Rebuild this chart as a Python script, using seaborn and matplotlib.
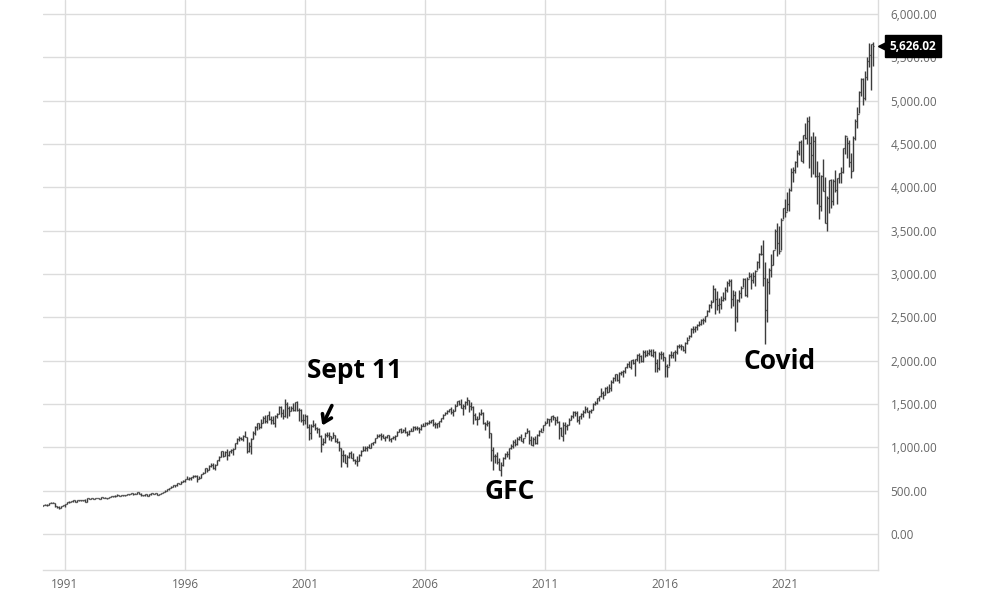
import numpy as np
import pandas as pd
import matplotlib
matplotlib.use("Agg")
import matplotlib.pyplot as plt
import matplotlib.transforms as mtransforms
import seaborn as sns

# ---------------- data (S&P 500 monthly OHLC, Jan 1990 - Sep 2024) ----------------
first_open = 353.4
closes = [
    329.1, 331.9, 339.9, 330.8, 361.2, 358.0, 356.2, 322.6, 306.1, 304.0, 322.2, 330.2,
    343.9, 367.1, 375.2, 375.3, 389.8, 371.2, 387.8, 395.4, 387.9, 392.5, 375.2, 417.1,
    408.8, 412.7, 403.7, 414.9, 415.4, 408.1, 424.2, 414.0, 417.8, 418.7, 431.4, 435.7,
    438.8, 443.4, 451.7, 440.2, 450.2, 450.5, 448.1, 463.6, 458.9, 467.8, 461.8, 466.5,
    481.6, 467.1, 445.8, 450.9, 456.5, 444.3, 458.3, 475.5, 462.7, 472.4, 454.0, 459.3,
    470.4, 487.4, 500.7, 514.7, 533.4, 544.8, 562.1, 561.9, 584.4, 581.5, 605.4, 615.9,
    636.0, 640.4, 645.5, 654.2, 669.1, 670.6, 639.9, 652.0, 687.3, 705.3, 757.0, 740.7,
    786.2, 790.8, 757.1, 801.3, 848.3, 885.1, 954.3, 899.5, 947.3, 914.6, 955.4, 970.4,
    980.3, 1049.3, 1101.8, 1111.8, 1090.8, 1133.8, 1120.7, 957.3, 1017.0, 1098.7, 1163.6, 1229.2,
    1279.6, 1238.3, 1286.4, 1335.2, 1301.8, 1372.7, 1328.7, 1320.4, 1282.7, 1362.9, 1389.0, 1469.3,
    1394.5, 1366.4, 1498.6, 1452.4, 1420.6, 1454.6, 1430.8, 1517.7, 1436.5, 1429.4, 1315.0, 1320.3,
    1366.0, 1239.9, 1160.3, 1249.5, 1255.8, 1224.4, 1211.2, 1133.6, 1040.9, 1059.8, 1139.5, 1148.1,
    1130.2, 1106.7, 1147.4, 1076.9, 1067.1, 989.8, 911.6, 916.1, 815.3, 885.8, 936.3, 879.8,
    855.7, 841.2, 848.2, 916.9, 963.6, 974.5, 990.3, 1008.0, 996.0, 1050.7, 1058.2, 1111.9,
    1131.1, 1144.9, 1126.2, 1107.3, 1120.7, 1140.8, 1101.7, 1104.2, 1114.6, 1130.2, 1173.8, 1211.9,
    1181.3, 1203.6, 1180.6, 1156.9, 1191.5, 1191.3, 1234.2, 1220.3, 1228.8, 1207.0, 1249.5, 1248.3,
    1280.1, 1280.7, 1294.8, 1310.6, 1270.1, 1270.2, 1276.7, 1303.8, 1335.9, 1377.9, 1400.6, 1418.3,
    1438.2, 1406.8, 1420.9, 1482.4, 1530.6, 1503.4, 1455.3, 1474.0, 1526.8, 1549.4, 1481.1, 1468.4,
    1378.6, 1330.6, 1322.7, 1385.6, 1400.4, 1280.0, 1267.4, 1282.8, 1166.4, 968.8, 896.2, 903.3,
    825.9, 735.1, 797.9, 872.8, 919.1, 919.3, 987.5, 1020.6, 1057.1, 1036.2, 1095.6, 1115.1,
    1073.9, 1104.5, 1169.4, 1186.7, 1089.4, 1030.7, 1101.6, 1049.3, 1141.2, 1183.3, 1180.6, 1257.6,
    1286.1, 1327.2, 1325.8, 1363.6, 1345.2, 1320.6, 1292.3, 1218.9, 1131.4, 1253.3, 1247.0, 1257.6,
    1312.4, 1365.7, 1408.5, 1397.9, 1310.3, 1362.2, 1379.3, 1406.6, 1440.7, 1412.2, 1416.2, 1426.2,
    1498.1, 1514.7, 1569.2, 1597.6, 1630.7, 1606.3, 1685.7, 1633.0, 1681.6, 1756.5, 1805.8, 1848.4,
    1782.6, 1859.5, 1872.3, 1883.9, 1923.6, 1960.2, 1930.7, 2003.4, 1972.3, 2018.1, 2067.6, 2058.9,
    1995.0, 2104.5, 2067.9, 2085.5, 2107.4, 2063.1, 2103.8, 1972.2, 1920.0, 2079.4, 2080.4, 2043.9,
    1940.2, 1932.2, 2059.7, 2065.3, 2096.9, 2098.9, 2173.6, 2170.9, 2168.3, 2126.2, 2199.0, 2238.8,
    2278.9, 2363.6, 2362.7, 2384.2, 2411.8, 2423.4, 2470.3, 2471.7, 2519.4, 2575.3, 2647.6, 2673.6,
    2823.8, 2713.8, 2640.9, 2648.1, 2705.3, 2718.4, 2816.3, 2901.5, 2914.0, 2711.7, 2760.2, 2506.9,
    2704.1, 2784.5, 2834.4, 2945.8, 2752.1, 2941.8, 2980.4, 2926.5, 2976.7, 3037.6, 3141.0, 3230.8,
    3225.5, 2954.2, 2584.6, 2912.4, 3044.3, 3100.3, 3271.1, 3500.3, 3363.0, 3270.0, 3621.6, 3756.1,
    3714.2, 3811.2, 3972.9, 4181.2, 4204.1, 4297.5, 4395.3, 4522.7, 4307.5, 4605.4, 4567.0, 4766.2,
    4515.6, 4373.9, 4530.4, 4131.9, 4132.2, 3785.4, 4130.3, 3955.0, 3585.6, 3872.0, 4080.1, 3839.5,
    4076.6, 3970.2, 4109.3, 4169.5, 4179.8, 4450.4, 4589.0, 4507.7, 4288.1, 4193.8, 4567.8, 4769.8,
    4845.7, 5096.3, 5254.4, 5035.7, 5277.5, 5460.5, 5522.3, 5648.4, 5626.02,
]
highs = [
    359.7, 336.1, 344.5, 347.3, 361.2, 369.0, 369.8, 356.4, 325.8, 318.8, 324.1, 330.8,
    344.5, 370.5, 378.5, 381.1, 389.9, 391.4, 391.6, 397.7, 396.9, 394.8, 398.8, 418.3,
    420.8, 418.3, 413.7, 418.0, 420.8, 418.3, 425.0, 425.1, 422.4, 419.6, 431.9, 441.3,
    442.0, 449.5, 456.7, 452.0, 453.5, 454.0, 450.6, 463.6, 463.6, 470.8, 468.6, 471.3,
    482.9, 482.2, 470.2, 452.8, 457.6, 462.0, 459.3, 476.6, 476.0, 474.5, 473.8, 466.3,
    473.8, 489.2, 503.6, 515.3, 533.8, 553.9, 563.8, 566.0, 589.9, 590.7, 608.0, 622.9,
    637.4, 664.2, 661.5, 657.6, 681.1, 680.3, 677.5, 673.4, 690.9, 714.1, 758.0, 762.1,
    794.7, 817.7, 814.9, 805.0, 851.9, 897.9, 960.3, 960.3, 961.0, 983.1, 962.0, 986.3,
    992.8, 1051.4, 1105.7, 1130.5, 1122.1, 1138.5, 1190.6, 1121.7, 1066.1, 1110.3, 1193.0, 1244.9,
    1280.4, 1283.1, 1323.9, 1362.8, 1368.6, 1376.0, 1420.3, 1357.4, 1358.8, 1367.7, 1396.1, 1473.1,
    1478.0, 1444.6, 1552.9, 1527.2, 1481.5, 1474.6, 1517.3, 1525.2, 1530.1, 1454.8, 1438.5, 1389.9,
    1383.4, 1376.4, 1267.4, 1269.3, 1315.9, 1286.6, 1239.8, 1226.3, 1141.8, 1110.6, 1163.4, 1173.0,
    1176.6, 1130.2, 1173.0, 1147.8, 1106.6, 1070.7, 997.3, 965.0, 924.0, 907.4, 951.6, 954.3,
    935.1, 864.6, 895.9, 919.7, 965.0, 1015.3, 1015.4, 1011.0, 1040.3, 1053.8, 1063.6, 1112.6,
    1155.4, 1159.0, 1163.2, 1150.6, 1127.7, 1146.3, 1140.8, 1109.7, 1131.5, 1142.1, 1188.5, 1217.3,
    1217.8, 1212.4, 1229.1, 1191.9, 1199.6, 1219.6, 1245.2, 1245.9, 1243.1, 1233.3, 1270.6, 1275.8,
    1294.9, 1297.6, 1310.9, 1318.2, 1326.7, 1290.7, 1280.4, 1306.7, 1340.3, 1389.5, 1407.9, 1431.8,
    1441.6, 1461.6, 1438.9, 1498.0, 1535.6, 1540.6, 1555.9, 1503.9, 1538.7, 1576.1, 1545.8, 1523.6,
    1471.8, 1396.0, 1359.7, 1404.6, 1440.2, 1404.1, 1292.2, 1313.2, 1303.0, 1167.0, 1007.5, 918.9,
    943.9, 875.0, 833.0, 888.7, 930.2, 956.2, 996.7, 1039.5, 1080.2, 1101.4, 1113.7, 1130.4,
    1150.5, 1112.4, 1180.2, 1219.8, 1205.1, 1131.2, 1121.0, 1129.2, 1148.7, 1196.1, 1227.1, 1262.6,
    1302.7, 1344.1, 1332.3, 1366.6, 1370.6, 1345.2, 1356.5, 1307.4, 1229.3, 1293.0, 1292.7, 1269.4,
    1333.5, 1378.0, 1419.2, 1422.4, 1415.3, 1363.5, 1391.7, 1426.7, 1474.5, 1471.0, 1434.3, 1448.0,
    1509.9, 1530.9, 1570.3, 1597.6, 1687.2, 1654.2, 1698.8, 1709.7, 1729.9, 1775.2, 1813.6, 1849.4,
    1850.8, 1867.9, 1884.0, 1897.3, 1924.0, 1968.2, 1991.4, 2005.0, 2019.3, 2018.2, 2075.8, 2093.6,
    2064.4, 2119.6, 2117.5, 2125.9, 2134.7, 2129.9, 2132.8, 2112.7, 2020.9, 2094.3, 2116.5, 2104.3,
    2038.2, 1963.0, 2072.2, 2111.1, 2103.5, 2120.6, 2177.1, 2193.8, 2187.9, 2169.6, 2214.1, 2277.5,
    2301.0, 2371.5, 2401.0, 2398.2, 2418.7, 2453.8, 2484.0, 2490.9, 2519.4, 2583.0, 2657.7, 2695.0,
    2872.9, 2836.0, 2801.9, 2717.5, 2742.2, 2791.5, 2848.0, 2916.5, 2940.9, 2939.9, 2815.2, 2800.2,
    2709.0, 2813.5, 2860.3, 2949.5, 2954.1, 2964.2, 3028.0, 3013.6, 3022.0, 3050.1, 3154.3, 3247.9,
    3337.8, 3393.5, 3136.7, 2954.9, 3068.7, 3233.1, 3280.0, 3514.8, 3588.1, 3549.9, 3646.0, 3760.2,
    3870.9, 3950.4, 3994.4, 4218.8, 4238.0, 4302.4, 4430.0, 4537.4, 4545.9, 4608.1, 4743.8, 4808.9,
    4818.6, 4595.3, 4637.3, 4593.5, 4307.7, 4177.5, 4140.2, 4325.3, 4119.3, 3905.4, 4080.1, 4101.0,
    4094.2, 4195.4, 4110.8, 4170.1, 4231.1, 4458.5, 4607.1, 4584.6, 4541.3, 4393.6, 4587.6, 4793.3,
    4931.1, 5111.1, 5264.9, 5264.0, 5341.9, 5505.5, 5669.7, 5651.6, 5670.8,
]
lows = [
    323.0, 322.1, 331.1, 327.8, 330.8, 352.4, 355.1, 307.1, 300.0, 294.5, 301.9, 322.0,
    309.4, 343.2, 362.2, 368.6, 373.1, 368.6, 371.2, 378.6, 383.6, 378.1, 372.3, 371.4,
    405.2, 404.0, 400.2, 399.0, 412.0, 401.0, 403.5, 410.6, 411.5, 404.3, 416.4, 427.9,
    427.9, 430.9, 441.4, 433.5, 437.0, 441.4, 441.4, 447.6, 450.6, 456.3, 454.4, 459.7,
    464.5, 464.3, 436.2, 435.9, 441.5, 442.9, 444.1, 454.6, 457.9, 460.4, 449.1, 450.5,
    457.2, 469.7, 479.7, 499.8, 510.0, 528.5, 543.5, 547.9, 559.6, 577.5, 577.1, 605.1,
    597.3, 633.2, 628.3, 622.4, 641.3, 660.4, 605.9, 637.5, 649.4, 690.9, 703.8, 711.3,
    737.0, 773.4, 754.6, 733.5, 795.2, 837.9, 884.3, 892.0, 897.6, 855.3, 901.5, 935.1,
    912.8, 977.8, 1039.4, 1076.7, 1084.8, 1074.7, 1114.3, 939.9, 947.0, 923.3, 1098.7, 1136.9,
    1205.5, 1211.7, 1225.8, 1282.8, 1281.4, 1281.4, 1320.1, 1268.4, 1265.5, 1233.7, 1342.5, 1385.8,
    1350.1, 1325.1, 1346.6, 1339.4, 1361.1, 1420.9, 1417.4, 1423.4, 1419.4, 1305.8, 1296.0, 1254.1,
    1274.6, 1228.3, 1081.2, 1092.0, 1232.0, 1203.0, 1165.5, 1124.9, 944.8, 1026.8, 1054.3, 1114.9,
    1081.7, 1074.4, 1106.7, 1063.5, 1049.0, 952.9, 775.7, 833.4, 815.3, 768.6, 872.1, 871.8,
    840.3, 806.3, 788.9, 847.9, 902.8, 963.6, 962.1, 960.8, 990.4, 995.9, 1031.2, 1053.4,
    1105.1, 1124.4, 1087.2, 1107.2, 1076.3, 1113.3, 1078.8, 1060.7, 1101.3, 1090.2, 1127.6, 1173.8,
    1163.8, 1181.0, 1163.7, 1136.2, 1146.2, 1188.3, 1183.6, 1201.1, 1205.4, 1168.2, 1201.1, 1246.6,
    1245.7, 1253.6, 1268.4, 1280.7, 1245.3, 1219.3, 1224.5, 1234.4, 1290.9, 1327.1, 1377.8, 1385.9,
    1404.0, 1389.4, 1364.0, 1416.4, 1476.7, 1484.2, 1454.3, 1370.6, 1439.3, 1489.6, 1406.1, 1435.6,
    1270.1, 1316.8, 1257.0, 1324.4, 1373.1, 1272.0, 1200.4, 1247.5, 1106.4, 839.8, 741.0, 815.7,
    804.5, 734.5, 666.8, 783.3, 866.1, 888.9, 869.3, 978.5, 992.3, 1020.0, 1029.4, 1085.9,
    1071.6, 1044.5, 1116.0, 1170.7, 1040.8, 1028.3, 1010.9, 1039.7, 1039.7, 1131.9, 1173.0, 1186.6,
    1257.6, 1282.9, 1249.1, 1294.7, 1311.8, 1258.1, 1282.9, 1101.5, 1136.2, 1074.8, 1158.7, 1202.4,
    1258.9, 1310.0, 1340.0, 1357.4, 1292.0, 1266.7, 1325.4, 1354.7, 1396.6, 1403.3, 1343.4, 1398.1,
    1426.2, 1485.0, 1501.5, 1536.0, 1581.3, 1560.3, 1604.6, 1627.5, 1633.4, 1646.5, 1746.2, 1768.0,
    1770.5, 1737.9, 1834.4, 1814.4, 1859.8, 1916.0, 1930.7, 1904.8, 1964.0, 1820.7, 2001.0, 1972.6,
    1988.1, 1980.9, 2039.7, 2048.4, 2067.9, 2056.3, 2044.0, 1867.0, 1871.9, 1893.7, 2019.4, 1993.3,
    1812.3, 1810.1, 1937.1, 2033.8, 2025.9, 1991.7, 2074.0, 2147.6, 2119.1, 2114.7, 2083.8, 2187.4,
    2245.1, 2271.7, 2322.3, 2329.0, 2352.7, 2405.7, 2407.7, 2417.4, 2446.6, 2520.4, 2557.5, 2605.5,
    2682.4, 2532.7, 2585.9, 2553.8, 2594.6, 2692.0, 2699.0, 2795.1, 2864.1, 2603.5, 2631.1, 2346.6,
    2444.0, 2681.8, 2722.3, 2848.6, 2750.5, 2728.8, 2952.2, 2822.1, 2891.9, 2855.9, 3050.7, 3070.3,
    3214.6, 2855.8, 2191.9, 2447.5, 2766.6, 2965.7, 3101.2, 3284.5, 3209.5, 3233.9, 3279.7, 3633.4,
    3662.7, 3725.6, 3723.3, 3955.3, 4056.9, 4164.4, 4233.1, 4367.7, 4305.9, 4278.9, 4560.0, 4495.1,
    4222.6, 4114.7, 4157.9, 4124.3, 3810.3, 3636.9, 3721.6, 3954.5, 3584.1, 3491.6, 3698.2, 3764.5,
    3794.3, 3943.1, 3808.9, 4049.4, 4048.3, 4166.2, 4385.1, 4335.3, 4238.6, 4103.8, 4187.1, 4546.5,
    4682.1, 4853.5, 5056.8, 4953.6, 5011.1, 5234.3, 5391.0, 5119.3, 5402.6,
]
year_ticks = [1991, 1996, 2001, 2006, 2011, 2016, 2021]
y_ticks = list(range(0, 6001, 500))
last_label = "5,626.02"
annotations = [("Sept 11", 2003.08, 1892), ("GFC", 2009.54, 485), ("Covid", 2020.79, 1985)]

# ---------------- build frame ----------------
n = len(closes)
t = 1990 + np.arange(n) / 12.0
opens = [first_open] + closes[:-1]
df = pd.DataFrame({"t": t, "open": opens, "high": highs, "low": lows, "close": closes})

# ---------------- style ----------------
sns.set_theme(style="white")
plt.rcParams["font.family"] = ["Open Sans", "DejaVu Sans"]

fig = plt.figure(figsize=(10, 6), dpi=100)
ax = fig.add_axes([0.043, 0.05, 0.835, 0.95])

bar_color = "#3c3c3c"
tick_w = 0.35 / 12
ax.vlines(df["t"], df["low"], df["high"], color=bar_color, lw=1.0, zorder=3)
ax.hlines(df["open"], df["t"] - tick_w, df["t"], color=bar_color, lw=0.9, zorder=3)
ax.hlines(df["close"], df["t"], df["t"] + tick_w, color=bar_color, lw=0.9, zorder=3)

ax.set_xlim(1990.083, 2024.875)
ax.set_ylim(-415, 6161)

ax.set_xticks(year_ticks)
ax.set_xticklabels([str(y) for y in year_ticks])
ax.set_yticks(y_ticks)
ax.set_yticklabels([f"{v:,.2f}" for v in y_ticks])
ax.yaxis.tick_right()
ax.tick_params(axis="both", length=0, labelsize=8.5, labelcolor="#666666")
ax.tick_params(axis="y", pad=9)
ax.tick_params(axis="x", pad=6)
ax.grid(True, color="#dcdcdc", lw=1.0)
ax.set_axisbelow(True)

for s in ["top", "left"]:
    ax.spines[s].set_visible(False)
for s in ["right", "bottom"]:
    ax.spines[s].set_color("#dcdcdc")
    ax.spines[s].set_linewidth(1.0)

# price tag
trans = mtransforms.blended_transform_factory(ax.transAxes, ax.transData)
ax.plot([1.0125], [closes[-1]], marker="<", ms=14, color="black", mec="black",
        transform=trans, clip_on=False, zorder=6)
ax.text(1.0135, closes[-1], last_label, transform=trans, ha="left", va="center",
        color="white", fontsize=8.5, fontweight="bold", zorder=7, clip_on=False,
        bbox=dict(boxstyle="square,pad=0.38", fc="black", ec="black"))

# annotations
for label, xv, yv in annotations:
    ax.text(xv, yv, label, ha="center", va="center", fontsize=19,
            fontweight="bold", color="black", zorder=7)
ax.annotate("", xy=(2001.67, 1223), xytext=(2002.17, 1511),
            arrowprops=dict(arrowstyle="->,head_length=0.45,head_width=0.3",
                            lw=2.6, color="black"), zorder=7)

fig.savefig("out.png", dpi=100)
